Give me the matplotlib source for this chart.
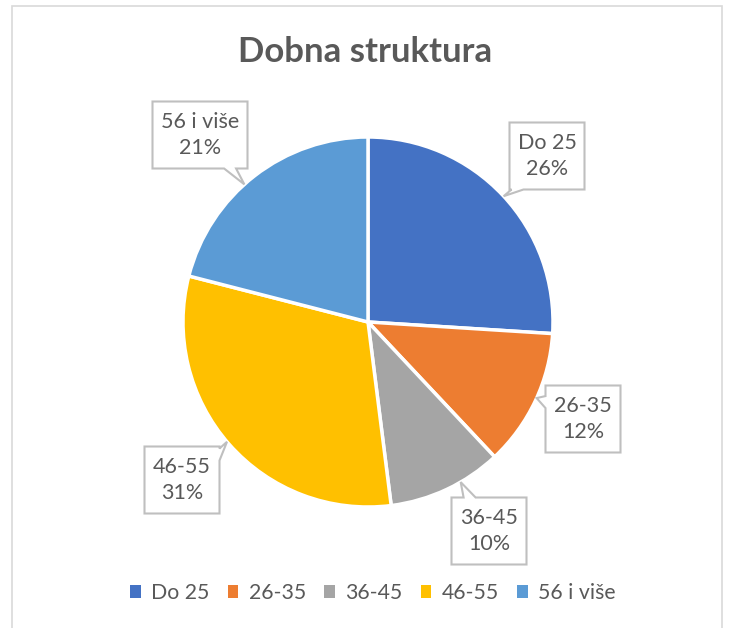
import numpy as np
import matplotlib.pyplot as plt
from matplotlib.patches import Polygon, Rectangle

# data
categories = ["Do 25", "26-35", "36-45", "46-55", "56 i više"]
shares = [26, 12, 10, 31, 21]
colors = ["#4472C4", "#ED7D31", "#A5A5A5", "#FFC000", "#5B9BD5"]

W, H = 729, 628
CX, CY, R = 368, H - 322, 185

# label box centres (pixels, y from top)
label_pos = [(547, 156), (583, 419), (489, 531), (182, 480), (200, 135)]
box_w, box_h = 75, 67

plt.rcParams['font.family'] = ['Lato', 'DejaVu Sans']
text_col = "#595959"

fig = plt.figure(figsize=(W / 100, H / 100), dpi=100)
ax = fig.add_axes([0, 0, 1, 1])

# chart frame
ax.add_patch(Rectangle((12, -5), 710, H - 6 + 5, fill=False, ec="#D9D9D9", lw=1.2))

ax.pie(shares, colors=colors, startangle=90, counterclock=False,
       center=(CX, CY), radius=R, frame=True,
       wedgeprops=dict(edgecolor="white", linewidth=2.5))
ax.set_xlim(0, W)
ax.set_ylim(0, H)
ax.set_aspect('equal')
ax.axis('off')


def callout(cx, cy, w, h, label):
    # box with a small pointer towards the pie edge
    d = np.array([CX - cx, CY - cy], float)
    u = d / np.hypot(*d)
    tip = np.array([CX, CY]) - u * R
    x0, x1, y0, y1 = cx - w / 2, cx + w / 2, cy - h / 2, cy + h / 2
    vx, vy = tip[0] - cx, tip[1] - cy
    # which side does the line to the tip leave through
    tx = (w / 2) / abs(vx) if vx else np.inf
    ty = (h / 2) / abs(vy) if vy else np.inf
    if tx < ty:
        py = np.clip(cy + vy * tx, y0 + 8, y1 - 8)
        if vx > 0:
            pts = [(x0, y0), (x1, y0), (x1, py - 6), tuple(tip), (x1, py + 6), (x1, y1), (x0, y1)]
        else:
            pts = [(x0, y0), (x1, y0), (x1, y1), (x0, y1), (x0, py + 6), tuple(tip), (x0, py - 6)]
    else:
        px = np.clip(cx + vx * ty, x0 + 8, x1 - 8)
        if vy > 0:
            pts = [(x0, y0), (x1, y0), (x1, y1), (px + 6, y1), tuple(tip), (px - 6, y1), (x0, y1)]
        else:
            pts = [(x0, y0), (px - 6, y0), tuple(tip), (px + 6, y0), (x1, y0), (x1, y1), (x0, y1)]
    ax.add_patch(Polygon(pts, closed=True, fc="white", ec="#BFBFBF", lw=1.5, zorder=5))
    ax.text(cx, cy, label, ha='center', va='center', fontsize=15.5,
            color=text_col, linespacing=1.35, zorder=6)


for cat, val, (px, py) in zip(categories, shares, label_pos):
    w = box_w + (20 if len(cat) > 6 else 0)
    callout(px, H - py, w, box_h, f"{cat}\n{val}%")

ax.text(365, H - 52, "Dobna struktura", ha='center', va='center',
        fontsize=25, fontweight='bold', color=text_col)

handles = [Rectangle((0, 0), 1, 1, fc=c) for c in colors]
fig.legend(handles, categories, loc='center', bbox_to_anchor=(373 / W, 1 - 593 / H),
           ncol=5, frameon=False, fontsize=15.3, labelcolor=text_col,
           handlelength=0.5, handleheight=0.5, handletextpad=0.5, columnspacing=0.85)

fig.savefig("out.png", dpi=100)
